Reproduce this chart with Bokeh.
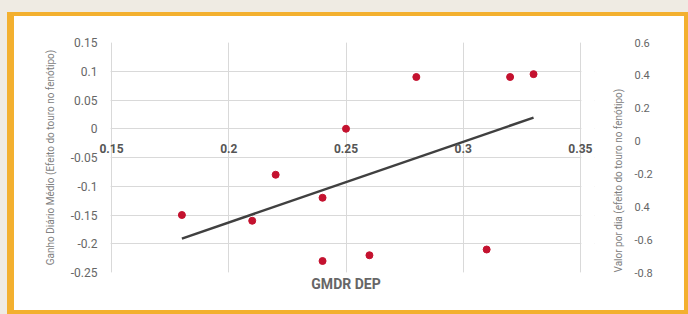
import math
import numpy as np
from bokeh.plotting import figure
from bokeh.models import Range1d, LinearAxis, FixedTicker, Title, Grid, ColumnDataSource, BoxAnnotation
from bokeh.embed import file_html
from bokeh.resources import INLINE

# ---- data ----
gmdr_dep = [0.18, 0.21, 0.22, 0.24, 0.24, 0.25, 0.26, 0.28, 0.31, 0.32, 0.33]
efeito_gmd = [-0.15, -0.16, -0.08, -0.12, -0.23, 0.0, -0.22, 0.09, -0.21, 0.09, 0.095]

x_ticks = [0.15, 0.2, 0.25, 0.3, 0.35]
x_tick_labels = ["0.15", "0.2", "0.25", "0.3", "0.35"]
y_ticks = [0.15, 0.1, 0.05, 0, -0.05, -0.1, -0.15, -0.2, -0.25]
y_tick_labels = ["0.15", "0.1", "0.05", "0", "-0.05", "-0.1", "-0.15", "-0.2", "-0.25"]
y2_ticks = [0.6, 0.4, 0.2, 0, -0.2, -0.4, -0.6, -0.8]
y2_tick_labels = ["0.6", "0.4", "0.2", "0", "-0.2", "0.4", "-0.6", "-0.8"]

x_title = "GMDR DEP"
y_title = "Ganho Diário Médio (Efeito do touro no fenótipo)"
y2_title = "Valor por dia (efeito do touro no fenótipo)"

FONT = "Roboto"
ORANGE = "#F3B02F"
BEIGE = "#EFEBE3"

slope, intercept = np.polyfit(gmdr_dep, efeito_gmd, 1)
fit_x = [min(gmdr_dep), max(gmdr_dep)]
fit_y = [slope * v + intercept for v in fit_x]

# small padding of the x range so the edge tick labels are not clipped
pad = 0.006
p = figure(width=670, height=294, output_backend="svg", toolbar_location=None,
           x_range=Range1d(x_ticks[0] - pad, x_ticks[-1] + pad),
           y_range=Range1d(y_ticks[-1], y_ticks[0]),
           x_axis_location=None, y_axis_location="left",
           min_border_left=83, min_border_right=101, min_border_top=26, min_border_bottom=46)
p.outline_line_color = None
p.border_fill_color = "white"
p.background_fill_color = "white"
p.styles = {"margin": "12px 0px 0px 7px", "border-style": "solid", "border-color": ORANGE,
            "border-width": "4px 4px 4px 7px", "box-shadow": f"0 0 0 12px {BEIGE}",
            "box-sizing": "content-box"}

# left axis
ya = p.yaxis[0]
ya.ticker = FixedTicker(ticks=y_ticks)
ya.major_label_overrides = dict(zip(y_ticks, y_tick_labels))
ya.axis_line_color = None
ya.major_tick_line_color = None
ya.minor_tick_line_color = None
ya.major_label_standoff = -6
ya.major_label_text_font = FONT
ya.major_label_text_font_size = "12px"
ya.major_label_text_color = "#666666"
ya.axis_label = y_title
ya.axis_label_standoff = 12
ya.axis_label_text_font = FONT
ya.axis_label_text_font_size = "10px"
ya.axis_label_text_font_style = "normal"
ya.axis_label_text_color = "#808080"
p.ygrid.ticker = FixedTicker(ticks=y_ticks)
p.ygrid.grid_line_color = "#D9D9D9"

# hide the horizontal grid overhang outside 0.15 .. 0.35
p.add_layout(BoxAnnotation(right=x_ticks[0] - 0.0004, fill_color="white", fill_alpha=1,
                           line_color=None, level="underlay"))
p.add_layout(BoxAnnotation(left=x_ticks[-1] + 0.0004, fill_color="white", fill_alpha=1,
                           line_color=None, level="underlay"))

# x axis crossing at y = 0
xa = LinearAxis(ticker=FixedTicker(ticks=x_ticks), fixed_location=0,
                major_label_overrides=dict(zip(x_ticks, x_tick_labels)),
                axis_line_color=None, major_tick_line_color=None, minor_tick_line_color=None,
                major_label_standoff=9, major_label_text_font=FONT,
                major_label_text_font_size="12px", major_label_text_font_style="bold",
                major_label_text_color="#555555")
p.add_layout(xa, "below")
p.add_layout(Grid(dimension=0, ticker=FixedTicker(ticks=x_ticks), grid_line_color="#D9D9D9"))

# x title
p.add_layout(Title(text=x_title, align="center", text_font=FONT, text_font_size="14px",
                   text_font_style="bold", text_color="#666666", standoff=2), "below")

# right axes: title next to the frame, tick labels further out
p.extra_y_ranges = {"y2": Range1d(y2_ticks[-1], y2_ticks[0])}
ax_t = LinearAxis(y_range_name="y2", ticker=FixedTicker(ticks=[]), axis_label=y2_title,
                  axis_line_color=None, major_tick_line_color=None, minor_tick_line_color=None,
                  major_label_standoff=0, axis_label_standoff=24,
                  axis_label_text_font=FONT, axis_label_text_font_size="10px",
                  axis_label_text_font_style="normal", axis_label_text_color="#808080")
props = ax_t.properties()
if "axis_label_align" in props and "axis_label_orientation" in props:
    ax_t.axis_label_orientation = math.pi / 2
    ax_t.axis_label_align = "start"
    ax_t.bounds = (-0.588, 0.6)
p.add_layout(ax_t, "right")
ax2 = LinearAxis(y_range_name="y2", ticker=FixedTicker(ticks=y2_ticks),
                 major_label_overrides=dict(zip(y2_ticks, y2_tick_labels)),
                 axis_line_color=None, major_tick_line_color=None, minor_tick_line_color=None,
                 major_label_standoff=-4, major_label_text_font=FONT,
                 major_label_text_font_size="11px", major_label_text_color="#666666")
p.add_layout(ax2, "right")

# data
p.line(fit_x, fit_y, line_color="#404040", line_width=2.5)
src = ColumnDataSource(dict(x=gmdr_dep, y=efeito_gmd))
p.scatter("x", "y", source=src, size=7, fill_color="#C4122F", line_color="#C4122F")

open("out.html", "w").write(file_html(p, INLINE))
